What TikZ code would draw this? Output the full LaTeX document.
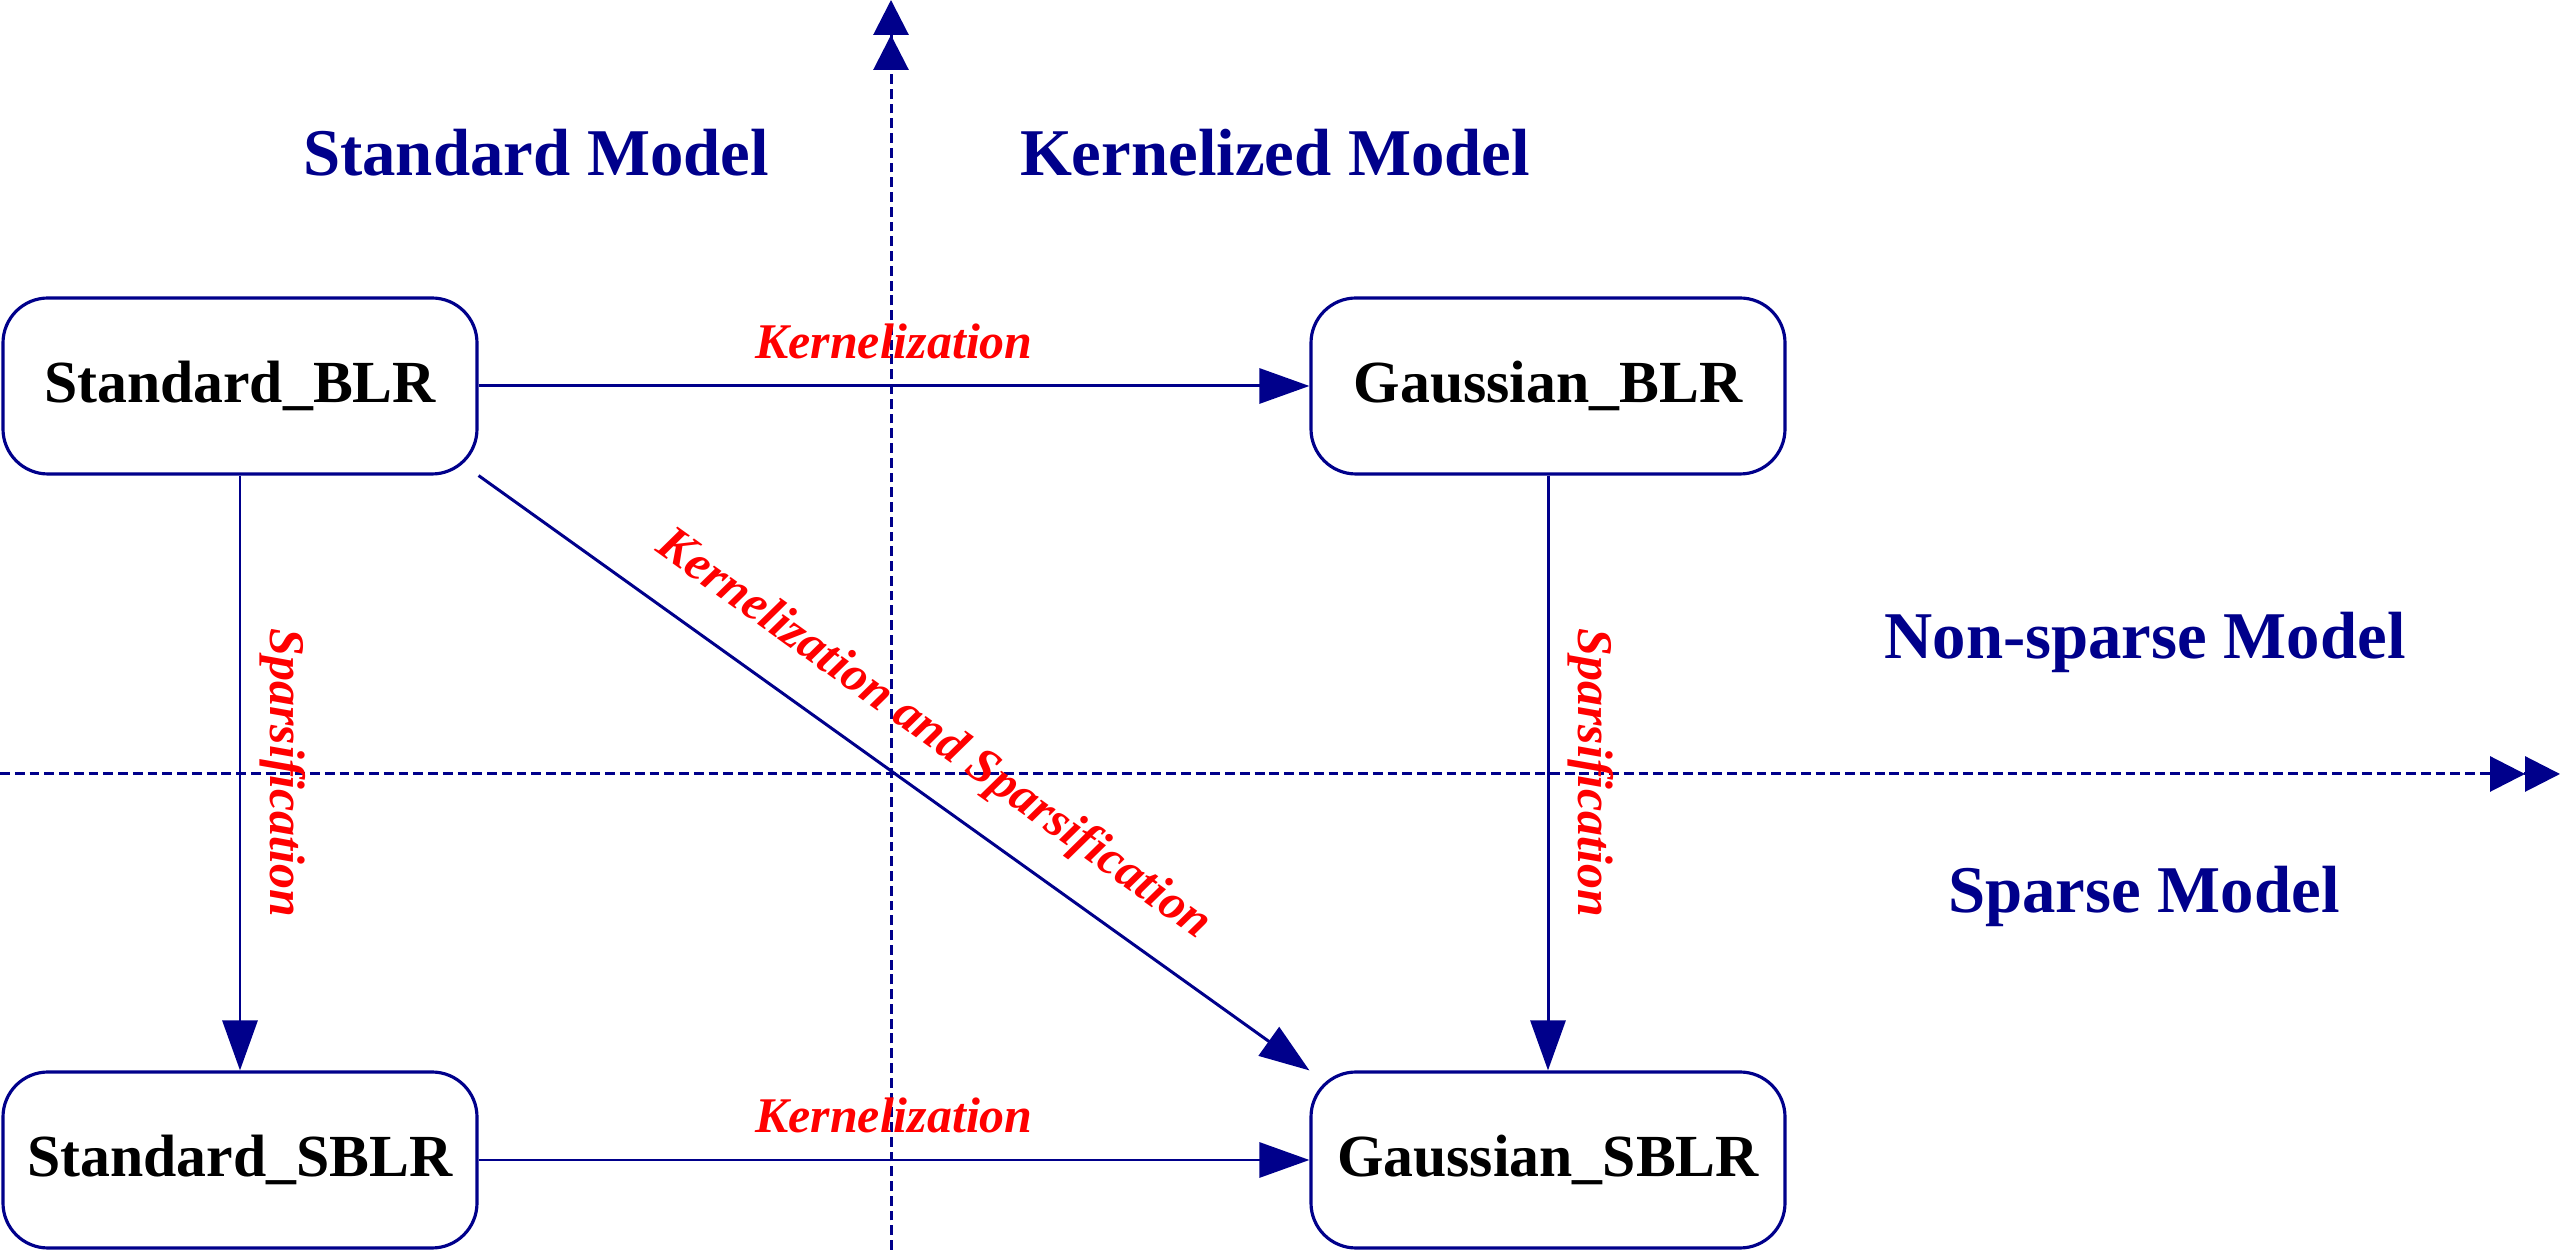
\documentclass[tikz,border=0pt]{standalone}
\usepackage{fontspec}
\setmainfont{Liberation Serif}
\usetikzlibrary{arrows.meta}
\begin{document}
\begin{tikzpicture}
  \definecolor{navy}{RGB}{0,0,139}
  \tikzset{
    model/.style={rectangle,draw=navy,line width=0.9pt,rounded corners=0.45cm,minimum width=4.74cm,minimum height=1.76cm,font=\fontsize{17}{20}\selectfont\bfseries},
    region/.style={navy,font=\fontsize{19}{22}\selectfont\bfseries},
    link/.style={draw=navy,line width=0.85pt,-{Triangle[length=0.5cm,width=0.35cm]}},
    axis/.style={draw=navy,line width=0.85pt,dash pattern=on 2.8pt off 1.4pt,-{Triangle[length=0.35cm,width=0.35cm,sep=0pt]Triangle[length=0.35cm,width=0.35cm]}},
    oplabel/.style={red,font=\fontsize{14.2}{17}\selectfont\bfseries\itshape},
  }
  \useasboundingbox (0,0) rectangle (25.6,12.5);
  \coordinate (xs) at (0,4.76);
  \coordinate (xe) at (25.6,4.76);
  \coordinate (ys) at (8.91,0);
  \coordinate (ye) at (8.91,12.5);
  \draw[axis] (xs) -- (xe);
  \draw[axis] (ys) -- (ye);
  \foreach \n/\x/\y/\t in {sblr/2.4/8.64/Standard\_BLR, gblr/15.48/8.64/Gaussian\_BLR, ssblr/2.4/0.9/Standard\_SBLR, gsblr/15.48/0.9/Gaussian\_SBLR} {
    \node[model,fill=white] (\n) at (\x,\y) {\t};
  }
  \node[region] (stdmodel) at (5.36,10.97) {Standard Model};
  \node[region] (kermodel) at (12.75,10.97) {Kernelized Model};
  \node[region] (nonsparse) at (21.45,6.08) {Non-sparse Model};
  \node[region] (sparse) at (21.44,3.54) {Sparse Model};
  \draw[link] (sblr) -- node[oplabel,above=4pt] (kertop) {Kernelization} (gblr);
  \draw[link] (ssblr) -- node[oplabel,above=4pt] (kerbot) {Kernelization} (gsblr);
  \draw[link] (sblr) -- node[oplabel,sloped,above=2pt] (sparleft) {Sparsification} (ssblr);
  \draw[link] (gblr) -- node[oplabel,sloped,above=2pt] (sparright) {Sparsification} (gsblr);
  \draw[link] (sblr.south east) -- node[oplabel,sloped,above=5pt,pos=0.51] (both) {Kernelization and Sparsification} (gsblr.north west);
\end{tikzpicture}
\end{document}
